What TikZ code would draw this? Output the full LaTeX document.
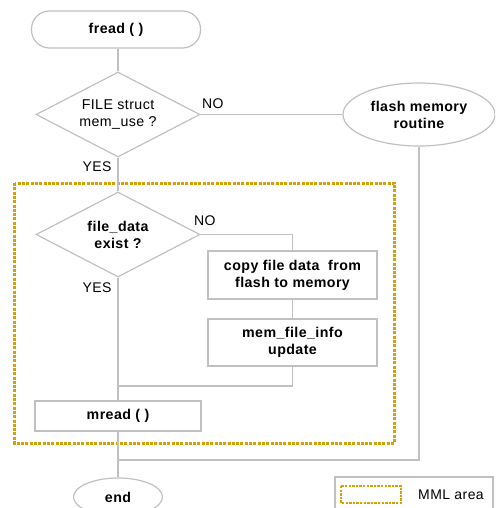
\documentclass[tikz,border=0pt]{standalone}
\usepackage{fontspec}
\setmainfont{Liberation Sans}[LetterSpace=3]
\usetikzlibrary{shapes.geometric}
\definecolor{edgegray}{RGB}{192,192,192}
\definecolor{mmlgold}{RGB}{214,160,8}
\tikzset{
  base/.style={draw=edgegray, line width=1.2pt, inner sep=0pt, align=center,
    font=\fontsize{14.2}{17}\selectfont\bfseries},
  terminal/.style={base, rectangle, rounded corners=18pt},
  decision/.style={base, diamond, shape aspect=1.93, minimum width=164pt, minimum height=85pt},
  oval/.style={base, ellipse},
  process/.style={base, rectangle},
  link/.style={draw=edgegray, line width=1.2pt},
  lbl/.style={font=\fontsize{14}{17}\selectfont, inner sep=0pt},
  mml/.style={draw=mmlgold, line width=3pt, dash pattern=on 3pt off 1.3pt},
  mmlsmall/.style={draw=mmlgold, line width=2.4pt, dash pattern=on 2.4pt off 1.2pt}
}
\begin{document}
\begin{tikzpicture}[x=1pt,y=-1pt]
\useasboundingbox (0,0) rectangle (495,508);
\clip (0,0) rectangle (495,508);

% MML area frame
\draw[mml] (14.5,183) rectangle (394,443);

% nodes
\node[terminal, minimum width=169pt, minimum height=37pt] (fread) at (116,29.5) {fread ( )};
\node[decision, font=\fontsize{14.2}{17}\selectfont] (d1) at (118,114.5) {FILE struct\\mem\_use ?};
\node[oval, minimum width=152pt, minimum height=63pt] (flash) at (419,114.5) {flash memory\\routine};
\node[decision] (d2) at (118,234.5) {file\_data\\exist ?};
\node[process, minimum width=169pt, minimum height=48pt] (copy) at (292.5,275) {copy file data\ \ from\\flash to memory};
\node[process, minimum width=169pt, minimum height=47pt] (upd) at (292.5,342.5) {mem\_file\_info\\update};
\node[process, minimum width=166pt, minimum height=30pt] (mread) at (118,416) {mread ( )};
\node[oval, minimum width=89pt, minimum height=38pt] (end) at (118,497) {end};

\coordinate (j1) at (118,460);
\coordinate (j2) at (118,386);

% connectors
\draw[link] (fread.south -| d1.north) -- (d1.north);
\draw[link] (d1.east) -- (flash.west);
\draw[link] (flash.south) |- (j1);
\draw[link] (d1.south) -- (d2.north);
\draw[link] (d2.east) -| (copy.north);
\draw[link] (copy.south) -- (upd.north);
\draw[link] (upd.south) |- (j2);
\draw[link] (d2.south) -- (mread.north);
\draw[link] (mread.south) -- (end.north);

% branch labels
\node[lbl, anchor=west] (no1) at (202,104) {NO};
\node[lbl] (yes1) at (97,167) {YES};
\node[lbl, anchor=west] (no2) at (194,221) {NO};
\node[lbl] (yes2) at (97,288) {YES};

% legend
\node[draw=edgegray, line width=1.2pt, minimum width=158pt, minimum height=38pt, inner sep=0pt] (legend) at (414,496) {};
\draw[mmlsmall] (341,486) rectangle (401,503);
\node[lbl] (legtext) at (451,495) {MML area};
\end{tikzpicture}
\end{document}
